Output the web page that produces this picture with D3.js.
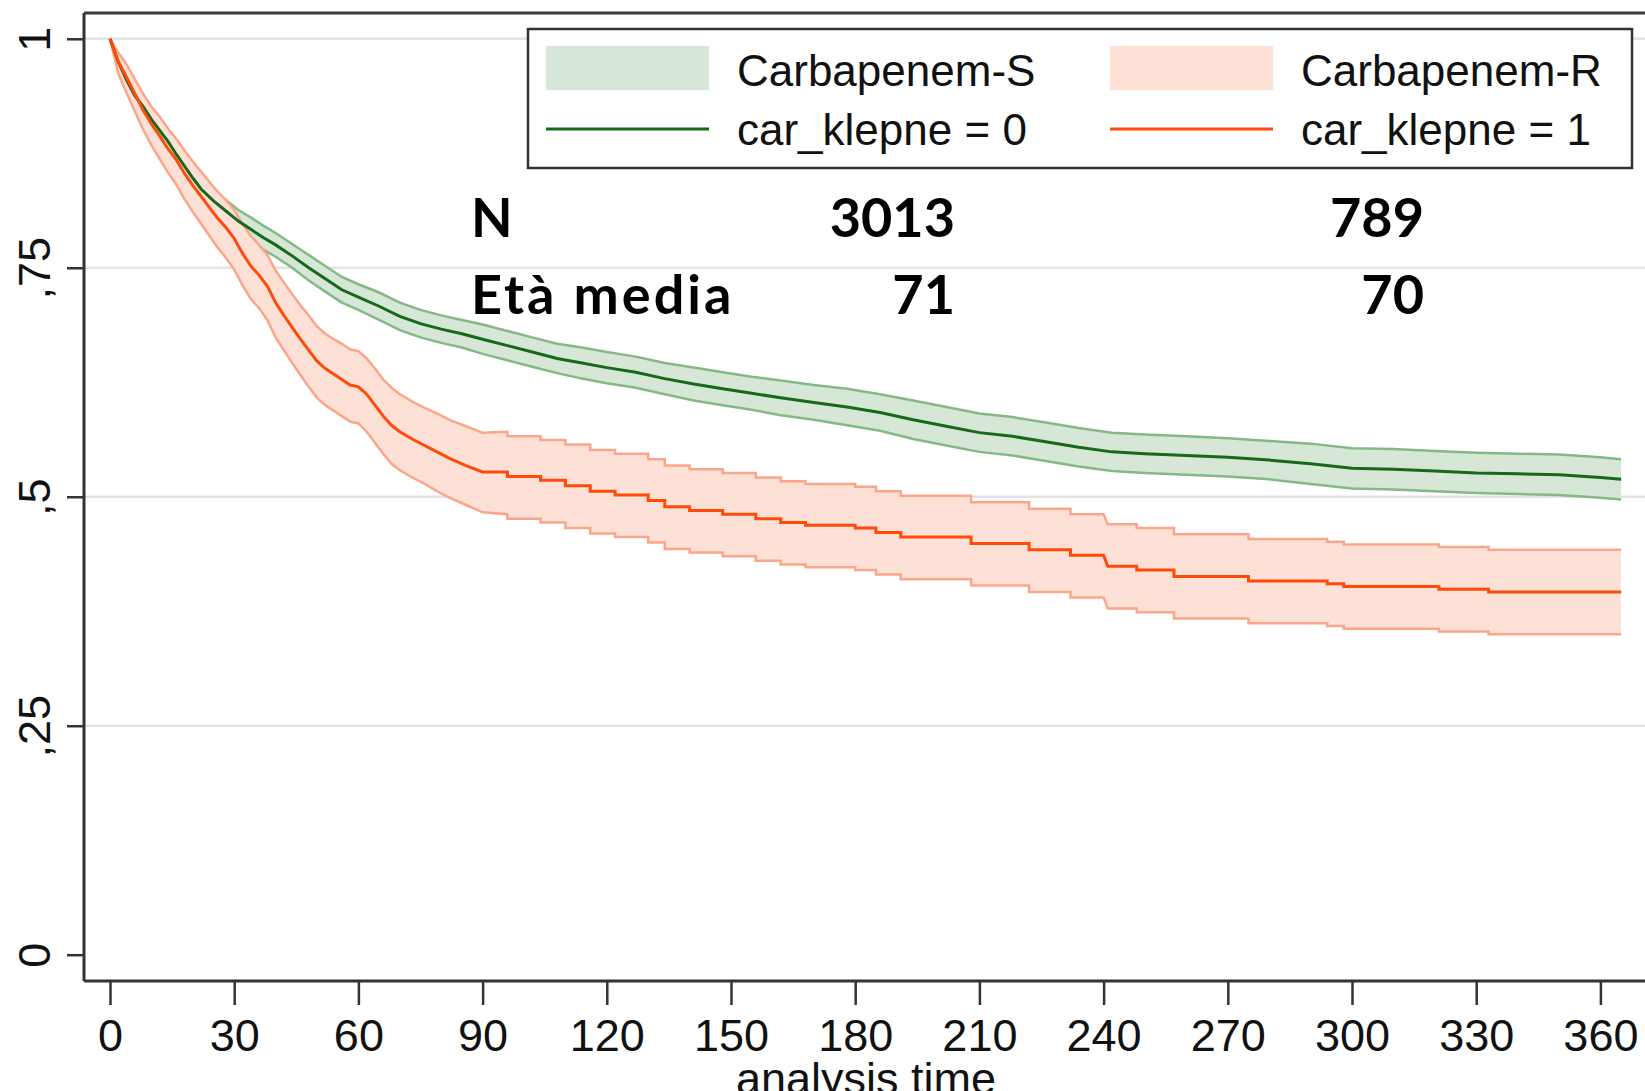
<!DOCTYPE html>
<html>
<head>
<meta charset="utf-8">
<script src="https://cdn.jsdelivr.net/npm/d3@7"></script>
<style>
  body { margin: 0; background: #fff; }
  svg { display: block; }
  .tick text { font-family: "Liberation Sans", Arial, sans-serif; fill: #111; }
</style>
</head>
<body>
<svg id="chart"></svg>
<script>
const svgWidth = 1645;
const svgHeight = 1091;

// survival group 0 (carbapenem susceptible)
const greenTime = [0, 2, 4, 6, 8, 10, 12, 14, 16, 18, 20, 22, 25, 28, 31, 34, 37, 40, 44, 48, 52, 56, 60, 65, 70, 75, 80, 85, 90, 96, 102, 108, 114, 120, 127, 134, 141, 148, 155, 162, 170, 178, 186, 194, 202, 210, 218, 226, 234, 242, 250, 260, 270, 280, 290, 300, 310, 320, 330, 340, 350, 360, 365];
const greenSurv = [1, .975, .955, .938, .926, .912, .900, .888, .874, .861, .848, .836, .823, .812, .801, .792, .783, .775, .763, .750, .738, .726, .718, .708, .697, .689, .683, .678, .672, .665, .658, .651, .646, .641, .636, .629, .623, .618, .613, .608, .603, .598, .592, .584, .577, .570, .566, .560, .554, .549, .547, .545, .543, .540, .536, .531, .530, .528, .526, .525, .524, .521, .519];
const greenLo = [1, .969, .948, .930, .917, .902, .889, .877, .863, .849, .836, .824, .811, .800, .789, .779, .770, .762, .750, .736, .724, .712, .704, .693, .682, .674, .668, .663, .656, .649, .642, .635, .629, .624, .619, .612, .605, .600, .595, .589, .584, .578, .572, .563, .556, .549, .545, .539, .533, .528, .526, .524, .522, .519, .514, .509, .508, .506, .504, .503, .502, .499, .497];
const greenHi = [1, .981, .962, .946, .935, .922, .911, .899, .885, .873, .860, .848, .835, .824, .813, .805, .796, .788, .776, .764, .752, .740, .732, .723, .712, .704, .698, .693, .688, .681, .674, .667, .663, .658, .653, .646, .641, .636, .631, .627, .622, .618, .612, .605, .598, .591, .587, .581, .575, .570, .568, .566, .564, .561, .558, .553, .552, .550, .548, .547, .546, .543, .541];

// survival group 1 (carbapenem resistant); repeated times are the corners of visible steps
const redTime = [0, 2, 4, 6, 8, 10, 12, 14, 16, 18, 20, 22, 24, 26, 28, 30, 32, 34, 36, 38, 40, 42, 44, 46, 48, 50, 52, 54, 56, 58, 60, 62, 64, 66, 68, 70, 73, 76, 79, 82, 86, 90,
  96, 96, 104, 104, 110, 110, 116, 116, 122, 122, 130, 130, 134, 134, 140, 140, 148, 148, 156, 156, 162, 162, 168, 168, 180, 180, 185, 185, 191, 191, 208, 208, 222, 222, 232, 232, 240, 241, 248, 248, 257, 257, 275, 275, 294, 294, 298, 298, 321, 321, 333, 333, 365];
const redSurv = [1, .975, .958, .940, .922, .907, .894, .880, .868, .853, .840, .828, .816, .804, .794, .782, .766, .752, .742, .730, .712, .698, .685, .672, .660, .648, .640, .634, .628, .622, .620, .612, .600, .588, .578, .571, .563, .556, .549, .542, .534, .527,
  .527, .522, .522, .518, .518, .512, .512, .506, .506, .502, .502, .496, .496, .489, .489, .485, .485, .481, .481, .476, .476, .472, .472, .469, .469, .466, .466, .461, .461, .456, .456, .449, .449, .442, .442, .436, .436, .424, .424, .420, .420, .413, .413, .408, .408, .405, .405, .402, .402, .399, .399, .396, .396];
const redLo = [1, .962, .941, .921, .901, .884, .869, .854, .841, .825, .811, .798, .785, .772, .761, .748, .731, .716, .706, .693, .674, .660, .646, .633, .620, .608, .600, .594, .588, .582, .580, .571, .559, .547, .536, .529, .521, .514, .506, .499, .491, .483,
  .481, .476, .476, .472, .472, .466, .466, .460, .460, .456, .456, .450, .450, .443, .443, .439, .439, .435, .435, .430, .430, .426, .426, .423, .423, .420, .420, .415, .415, .410, .410, .403, .403, .396, .396, .390, .390, .378, .378, .374, .374, .367, .367, .362, .362, .359, .359, .356, .356, .353, .353, .350, .350];
const redHi = [1, .985, .972, .956, .940, .926, .915, .902, .891, .878, .866, .855, .844, .833, .824, .813, .798, .785, .775, .764, .747, .734, .721, .709, .698, .686, .678, .672, .667, .661, .659, .651, .640, .628, .619, .612, .604, .597, .591, .584, .577, .570,
  .571, .566, .566, .562, .562, .557, .557, .551, .551, .547, .547, .541, .541, .534, .534, .530, .530, .526, .526, .521, .521, .517, .517, .514, .514, .511, .511, .506, .506, .501, .501, .494, .494, .487, .487, .481, .481, .470, .470, .466, .466, .459, .459, .454, .454, .451, .451, .448, .448, .445, .445, .442, .442];

const xTicks = [0, 30, 60, 90, 120, 150, 180, 210, 240, 270, 300, 330, 360];
const yTicks = [0, 0.25, 0.5, 0.75, 1];
const yTickLabels = ["0", ",25", ",5", ",75", "1"];

const legendFill = ["Carbapenem-S", "Carbapenem-R"];
const legendLine = ["car_klepne = 0", "car_klepne = 1"];

const statRows = ["N", "Età media"];
const statGroup0 = ["3013", "71"];
const statGroup1 = ["789", "70"];

const colors = {
  greenFill: "#d7e7d7", greenEdge: "#86b886", greenLine: "#17691a",
  redFill: "#fde1d7", redEdge: "#fba68b", redLine: "#ff4a0a"
};

const svg = d3.select("#chart")
  .attr("width", svgWidth)
  .attr("height", svgHeight);

const plotLeft = 84, plotTop = 13, plotBottom = 981;

const x = d3.scaleLinear().domain([0, 360]).range([110, 1600.4]);
const y = d3.scaleLinear().domain([0, 1]).range([954.7, 38.8]);

// gridlines
svg.append("g")
  .selectAll("line")
  .data(yTicks.filter(d => d > 0))
  .enter().append("line")
  .attr("x1", plotLeft).attr("x2", svgWidth)
  .attr("y1", d => y(d)).attr("y2", d => y(d))
  .attr("stroke", "#e3e3e3")
  .attr("stroke-width", 2.5);

function toRows(t, s, lo, hi) {
  return t.map((d, i) => ({ t: d, s: s[i], lo: lo[i], hi: hi[i] }));
}
const green = toRows(greenTime, greenSurv, greenLo, greenHi);
const red = toRows(redTime, redSurv, redLo, redHi);

const area = d3.area()
  .x(d => x(d.t))
  .y0(d => y(d.lo))
  .y1(d => y(d.hi));

const lineOf = key => d3.line()
  .x(d => x(d.t))
  .y(d => y(d[key]));

const plot = svg.append("g");

function drawBand(data, fill, edge) {
  plot.append("path").datum(data)
    .attr("d", area)
    .attr("fill", fill);
  ["lo", "hi"].forEach(k => {
    plot.append("path").datum(data)
      .attr("d", lineOf(k))
      .attr("fill", "none")
      .attr("stroke", edge)
      .attr("stroke-width", 2.5);
  });
}
drawBand(green, colors.greenFill, colors.greenEdge);
drawBand(red, colors.redFill, colors.redEdge);

plot.append("path").datum(green)
  .attr("d", lineOf("s"))
  .attr("fill", "none")
  .attr("stroke", colors.greenLine)
  .attr("stroke-width", 3);

plot.append("path").datum(red)
  .attr("d", lineOf("s"))
  .attr("fill", "none")
  .attr("stroke", colors.redLine)
  .attr("stroke-width", 3);

// frame
svg.append("line")
  .attr("x1", plotLeft).attr("x2", svgWidth)
  .attr("y1", plotTop).attr("y2", plotTop)
  .attr("stroke", "#3c3c3c").attr("stroke-width", 3);

// y axis
const yAxis = svg.append("g")
  .attr("transform", `translate(${plotLeft},0)`)
  .call(d3.axisLeft(y).tickValues(yTicks).tickSize(17).tickPadding(0)
    .tickFormat((d, i) => yTickLabels[i]));
yAxis.select(".domain")
  .attr("d", `M0,${plotTop}V${plotBottom}`)
  .attr("stroke", "#333").attr("stroke-width", 3);
yAxis.selectAll(".tick line").attr("stroke", "#333").attr("stroke-width", 2.5);
yAxis.selectAll(".tick text")
  .attr("x", null).attr("dy", null)
  .attr("transform", "translate(-34,0) rotate(-90)")
  .attr("text-anchor", "middle")
  .style("font-size", "45px");

// x axis
const xAxis = svg.append("g")
  .attr("transform", `translate(0,${plotBottom})`)
  .call(d3.axisBottom(x).tickValues(xTicks).tickSize(24).tickPadding(0));
xAxis.select(".domain")
  .attr("d", `M${plotLeft},0H${svgWidth}`)
  .attr("stroke", "#333").attr("stroke-width", 3);
xAxis.selectAll(".tick line").attr("stroke", "#333").attr("stroke-width", 2.5);
xAxis.selectAll(".tick text")
  .attr("y", 70).attr("dy", null)
  .style("font-size", "45px");

svg.append("text")
  .attr("x", 866).attr("y", 1094)
  .attr("text-anchor", "middle")
  .style("font-family", "'Liberation Sans', Arial, sans-serif")
  .style("font-size", "45px")
  .attr("fill", "#111")
  .text("analysis time");

// legend
const legend = svg.append("g");
legend.append("rect")
  .attr("x", 528).attr("y", 29).attr("width", 1104).attr("height", 139)
  .attr("fill", "#fff").attr("stroke", "#333").attr("stroke-width", 2.5);

const legendX = [546, 1110];
const fills = [colors.greenFill, colors.redFill];
const lineCols = [colors.greenLine, colors.redLine];
legendX.forEach((lx, i) => {
  legend.append("rect")
    .attr("x", lx).attr("y", 46).attr("width", 163).attr("height", 44)
    .attr("fill", fills[i]);
  legend.append("line")
    .attr("x1", lx).attr("x2", lx + 163)
    .attr("y1", 129).attr("y2", 129)
    .attr("stroke", lineCols[i]).attr("stroke-width", 3);
  legend.append("text")
    .attr("x", lx + 191).attr("y", 86)
    .style("font-family", "'Liberation Sans', Arial, sans-serif")
    .style("font-size", "44px").attr("fill", "#111")
    .text(legendFill[i]);
  legend.append("text")
    .attr("x", lx + 191).attr("y", 145)
    .style("font-family", "'Liberation Sans', Arial, sans-serif")
    .style("font-size", "44px").attr("fill", "#111")
    .text(legendLine[i]);
});

// stats annotation
const stats = svg.append("g")
  .style("font-family", "Lato, 'Open Sans', sans-serif")
  .style("font-weight", "bold")
  .style("font-size", "54px")
  .attr("fill", "#000");
const rowY = [237, 314];
statRows.forEach((r, i) => {
  stats.append("text").attr("x", 471).attr("y", rowY[i])
    .style("letter-spacing", "3px").text(r);
  stats.append("text").attr("x", 955).attr("y", rowY[i])
    .attr("text-anchor", "end").text(statGroup0[i]);
  stats.append("text").attr("x", 1424).attr("y", rowY[i])
    .attr("text-anchor", "end").text(statGroup1[i]);
});
</script>
</body>
</html>
